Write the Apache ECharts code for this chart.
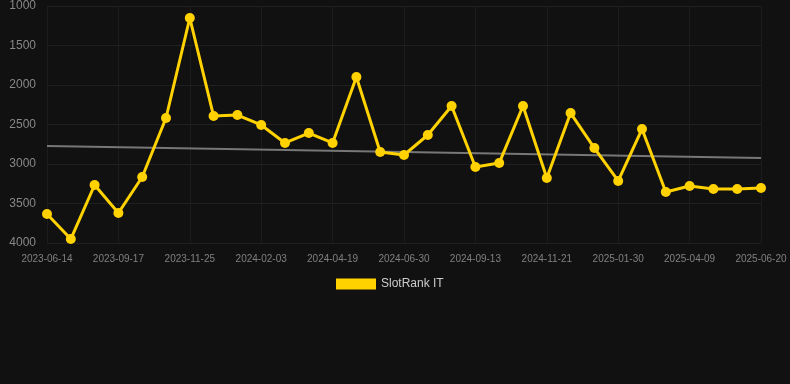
<!DOCTYPE html>
<html><head><meta charset="utf-8">
<script src="https://cdn.jsdelivr.net/npm/echarts@6/dist/echarts.min.js"></script>
<style>html,body{margin:0;padding:0;background:#111111;}#c{width:790px;height:384px;}</style>
</head><body><div id="c"></div>
<script>
const dates = ["2023-06-14","2023-07-16","2023-08-17","2023-09-17","2023-10-10","2023-11-02","2023-11-25","2023-12-20","2024-01-12","2024-02-03","2024-02-28","2024-03-24","2024-04-19","2024-05-13","2024-06-06","2024-06-30","2024-07-25","2024-08-19","2024-09-13","2024-10-06","2024-10-29","2024-11-21","2024-12-14","2025-01-07","2025-01-30","2025-02-22","2025-03-17","2025-04-09","2025-05-03","2025-05-27","2025-06-20"];
const rankIT = [3633,3950,3266,3620,3165,2418,1152,2393,2380,2506,2734,2608,2734,1899,2848,2886,2633,2266,3038,2988,2266,3178,2355,2798,3215,2557,3355,3279,3317,3317,3304];
const trendEnds = [2772, 2924];
const yTicks = [1000,1500,2000,2500,3000,3500,4000];

const trendData = dates.map((d,i)=> i===0 ? trendEnds[0] : (i===dates.length-1 ? trendEnds[1] : null));
const chart = echarts.init(document.getElementById('c'));
chart.setOption({
  backgroundColor:'#111111',
  animation:false,
  grid:{left:47,right:29,top:6,bottom:141},
  legend:{top:273,left:331,itemWidth:40,itemHeight:11,icon:'rect',itemGap:10,
    data:['SlotRank IT'],textStyle:{color:'#cccccc',fontSize:12,fontFamily:'Liberation Sans, Arial'}},
  xAxis:{type:'category',data:dates,boundaryGap:false,
    axisLine:{show:false},axisTick:{show:false},
    axisLabel:{interval:2,color:'#808080',fontSize:10,margin:11,fontFamily:'Liberation Sans, Arial'},
    splitLine:{show:true,interval:2,lineStyle:{color:'#1c1c1c',width:1}}},
  yAxis:{type:'value',inverse:true,min:yTicks[0],max:yTicks[yTicks.length-1],interval:500,
    axisLine:{show:false},axisTick:{show:false},
    axisLabel:{color:'#888888',fontSize:12,margin:11,fontFamily:'Liberation Sans, Arial',formatter:v=>String(v)},
    splitLine:{lineStyle:{color:'#202020',width:1}}},
  series:[
    {name:'trend',type:'line',data:trendData,connectNulls:true,symbol:'none',
      lineStyle:{color:'#777777',width:2},z:1,silent:true},
    {name:'SlotRank IT',type:'line',data:rankIT,symbol:'circle',symbolSize:10,
      itemStyle:{color:'#ffd200'},lineStyle:{color:'#ffd200',width:3},z:3}
  ]
});
</script></body></html>
